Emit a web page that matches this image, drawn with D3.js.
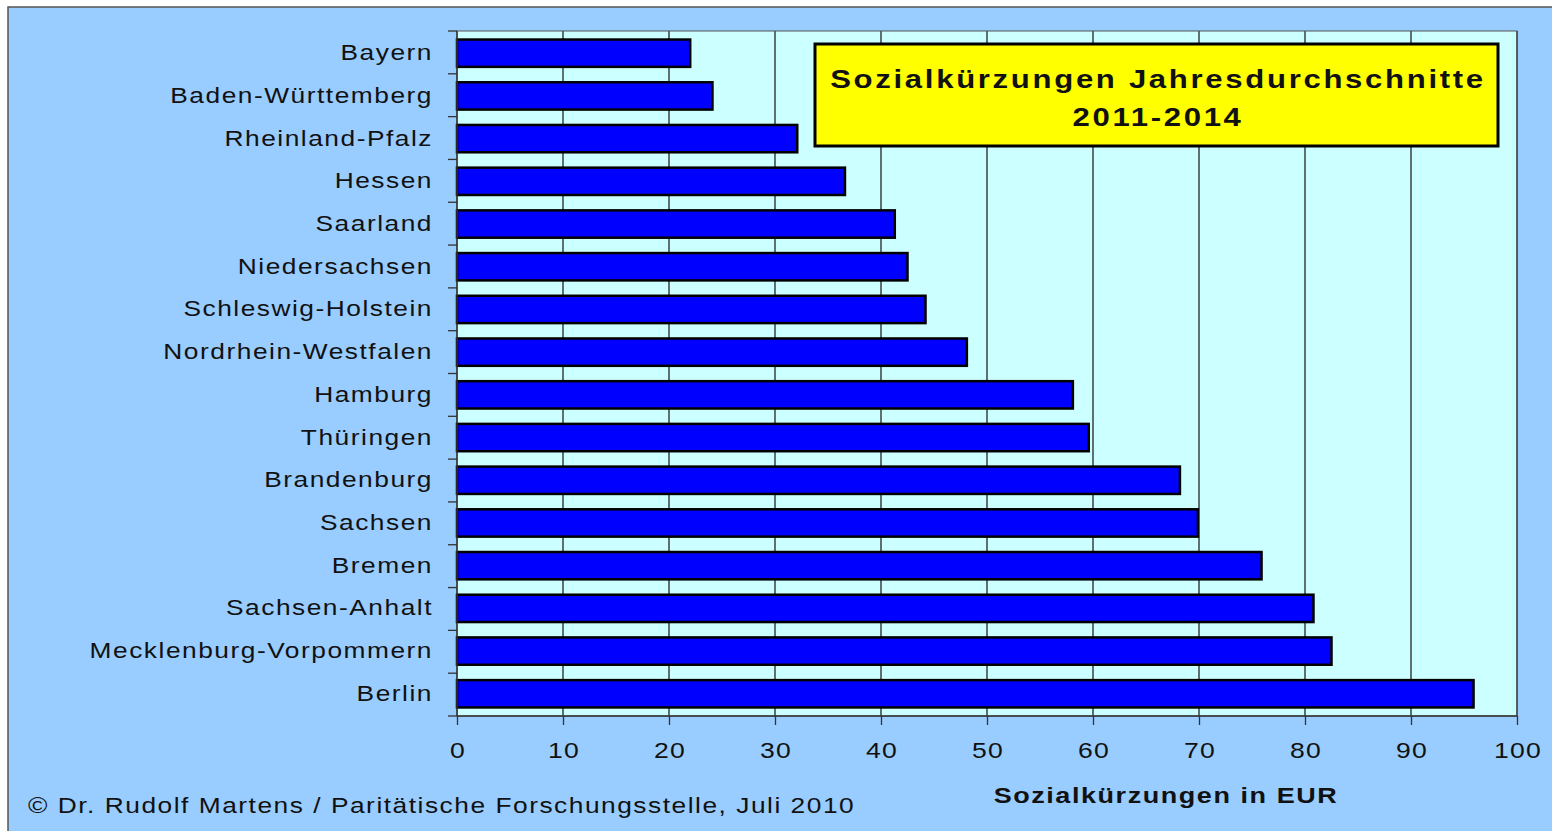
<!DOCTYPE html>
<html><head><meta charset="utf-8">
<script src="https://cdn.jsdelivr.net/npm/d3@7"></script>
<style>body{margin:0;background:#fff;overflow:hidden}text{font-family:"Liberation Sans",Arial,sans-serif;fill:#111}</style>
</head><body><svg id="c" width="1552" height="831"></svg>
<script>
const categories=["Bayern","Baden-Württemberg","Rheinland-Pfalz","Hessen","Saarland","Niedersachsen","Schleswig-Holstein","Nordrhein-Westfalen","Hamburg","Thüringen","Brandenburg","Sachsen","Bremen","Sachsen-Anhalt","Mecklenburg-Vorpommern","Berlin"];
const values=[22.0,24.1,32.1,36.6,41.3,42.5,44.2,48.1,58.1,59.6,68.2,69.9,75.9,80.8,82.5,95.9];
const xTicks=[0,10,20,30,40,50,60,70,80,90,100];
const titleLines=["Sozialkürzungen Jahresdurchschnitte","2011-2014"];
const xTitle="Sozialkürzungen in EUR";
const credit="© Dr. Rudolf Martens / Paritätische Forschungsstelle, Juli 2010";

const svg=d3.select("#c");
function stext(parent,x,y,s,txt,opts){
  const g=parent.append("g").attr("transform",`translate(${x},${y}) scale(${s},1)`);
  const t=g.append("text").attr("x",0).attr("y",0).text(txt)
    .attr("font-size",opts.size).attr("letter-spacing",opts.ls||0)
    .attr("text-anchor",opts.anchor||"start").attr("font-weight",opts.weight||"normal");
  return t;
}
svg.append("rect").attr("x",8).attr("y",7).attr("width",1560).attr("height",840)
  .attr("fill","#99CCFF").attr("stroke","#555").attr("stroke-width",1.5);
const L=457,R=1517,T=31,B=716;
const x=d3.scaleLinear().domain([0,100]).range([L,R]);
const y=d3.scaleBand().domain(categories).range([T,B]).paddingInner(0.36).paddingOuter(0.2);
svg.append("rect").attr("x",L).attr("y",T).attr("width",R-L).attr("height",B-T).attr("fill","#CCFFFF");
svg.append("g").selectAll("line").data(xTicks.slice(1)).join("line")
  .attr("x1",d=>x(d)).attr("x2",d=>x(d)).attr("y1",T).attr("y2",B).attr("stroke","#222").attr("stroke-width",1.3);
svg.append("rect").attr("x",L).attr("y",T).attr("width",R-L).attr("height",B-T).attr("fill","none").attr("stroke","#555").attr("stroke-width",1);
svg.append("g").selectAll("rect").data(values).join("rect")
  .attr("x",x(0)).attr("y",(d,i)=>y(categories[i])).attr("width",d=>x(d)-x(0)).attr("height",y.bandwidth())
  .attr("fill","#0000FF").attr("stroke","#000").attr("stroke-width",2.5);
const step=(B-T)/categories.length;
const yb=d3.range(categories.length+1).map(i=>T+i*step);
svg.append("line").attr("x1",L).attr("x2",L).attr("y1",T).attr("y2",B).attr("stroke","#333").attr("stroke-width",1.5);
svg.append("g").selectAll("line").data(yb).join("line").attr("x1",L-9).attr("x2",L).attr("y1",d=>d).attr("y2",d=>d).attr("stroke","#333").attr("stroke-width",1.3);
const yl=svg.append("g");
categories.forEach(c=>stext(yl,433,y(c)+y.bandwidth()/2+7,1.17,c,{size:22.5,ls:1.3,anchor:"end"}));
svg.append("line").attr("x1",L).attr("x2",R).attr("y1",B).attr("y2",B).attr("stroke","#333").attr("stroke-width",1.5);
const xa=svg.append("g").attr("transform",`translate(0,${B})`).call(d3.axisBottom(x).tickValues(xTicks).tickSize(9).tickFormat(()=>""));
xa.select(".domain").remove();
xa.selectAll("line").attr("stroke","#333").attr("stroke-width",1.3);
const xl=svg.append("g");
xTicks.forEach(v=>stext(xl,x(v)+1,758,1.18,d3.format("d")(v),{size:22.5,ls:1,anchor:"middle"}));
stext(svg,1166,803,1.2,xTitle,{size:22.5,ls:1.3,anchor:"middle",weight:"bold"});
stext(svg,28,813,1.17,credit,{size:22.5,ls:1.3});
svg.append("rect").attr("x",815).attr("y",44).attr("width",683).attr("height",102).attr("fill","#FFFF00").attr("stroke","#000").attr("stroke-width",3);
titleLines.forEach((t,i)=>stext(svg,1158,88+i*38,1.22,t,{size:25.5,ls:2.2,anchor:"middle",weight:"bold"}));
</script></body></html>
